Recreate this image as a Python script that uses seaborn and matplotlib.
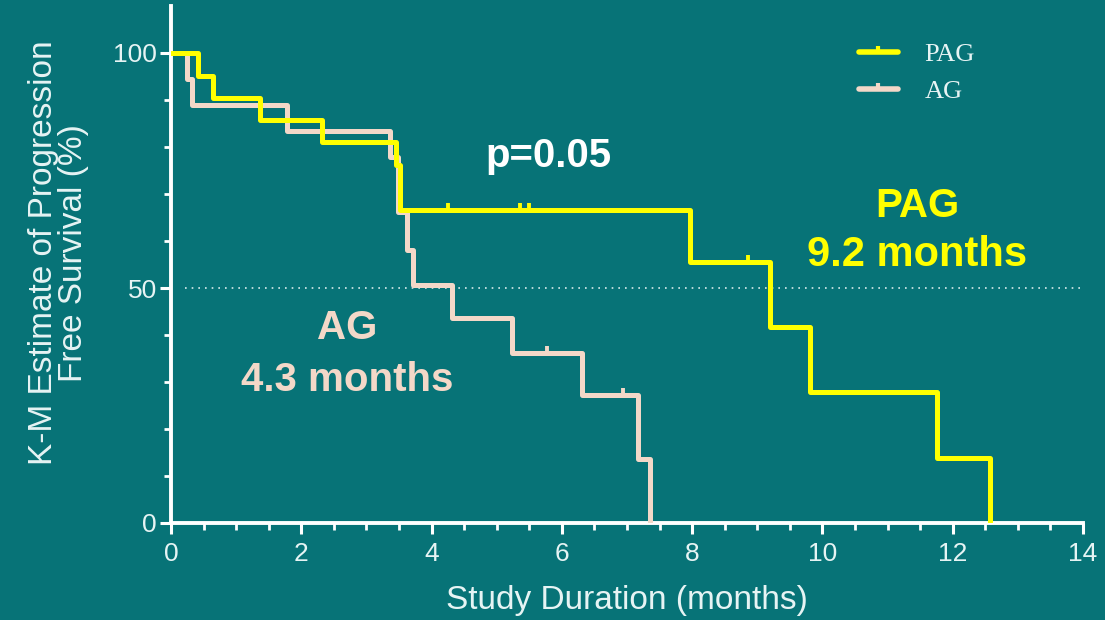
import numpy as np
import pandas as pd
import matplotlib
matplotlib.use("Agg")
import matplotlib.pyplot as plt
import seaborn as sns
from matplotlib.lines import Line2D

# ---- data (step points: time in months, survival %) ----
pag_time = [0.0, 0.41, 0.65, 1.37, 2.32, 3.45, 3.52, 7.97, 9.20, 9.81, 11.76, 12.57]
pag_surv = [100.0, 95.2, 90.5, 85.7, 81.0, 76.2, 66.7, 55.6, 41.7, 27.8, 13.9, 0.0]
pag_cens_time = [4.25, 5.36, 5.50, 8.85]
pag_cens_surv = [66.7, 66.7, 66.7, 55.6]

ag_time = [0.0, 0.25, 0.33, 1.78, 3.36, 3.48, 3.62, 3.72, 4.31, 5.23, 6.31, 7.17, 7.35]
ag_surv = [100.0, 94.4, 88.9, 83.3, 77.8, 66.1, 58.1, 50.6, 43.6, 36.2, 27.2, 13.6, 0.0]
ag_cens_time = [5.77, 6.94]
ag_cens_surv = [36.2, 27.2]

x_ticks = [0, 2, 4, 6, 8, 10, 12, 14]
y_ticks = [0, 50, 100]

BG = "#077377"
YEL = "#FFFF00"
BEI = "#F3D8C8"
TXT = "#E6F4F4"

sns.set_theme(style="ticks")
plt.rcParams["font.family"] = ["Liberation Sans", "DejaVu Sans"]

fig = plt.figure(figsize=(11.05, 6.2), dpi=100, facecolor=BG)
ax = fig.add_axes([171 / 1105, 1 - 523 / 620, (1083 - 171) / 1105, 517 / 620])
ax.set_facecolor(BG)

df = pd.concat([
    pd.DataFrame({"t": pag_time, "s": pag_surv, "g": "PAG"}),
    pd.DataFrame({"t": ag_time, "s": ag_surv, "g": "AG"}),
])
sns.lineplot(data=df[df.g == "PAG"], x="t", y="s", ax=ax, color=YEL, lw=3.6,
             drawstyle="steps-post", estimator=None, sort=False, zorder=4)
sns.lineplot(data=df[df.g == "AG"], x="t", y="s", ax=ax, color=BEI, lw=3.6,
             drawstyle="steps-post", estimator=None, sort=False, zorder=3)

up_tick = [(0, 0), (0, 1)]  # censor mark pointing upward from the line
sns.scatterplot(x=pag_cens_time, y=pag_cens_surv, ax=ax, marker=up_tick,
                color=YEL, edgecolor=YEL, s=110, linewidth=2.8, zorder=5)
sns.scatterplot(x=ag_cens_time, y=ag_cens_surv, ax=ax, marker=up_tick,
                color=BEI, edgecolor=BEI, s=110, linewidth=2.8, zorder=5)

# median reference line
ax.axhline(50, xmin=0.015, xmax=1, color="#D8ECEC", lw=1.2, ls=(0, (1, 3)), zorder=2)

ax.set_xlim(0, 14)
ax.set_ylim(0, 110)
ax.set_xticks(x_ticks)
ax.set_xticks(np.arange(0, 14.01, 0.5), minor=True)
ax.set_yticks(y_ticks)
ax.set_yticks(np.arange(0, 101, 10), minor=True)
ax.set_xticklabels([str(v) for v in x_ticks])
ax.set_yticklabels([str(v) for v in y_ticks])

for side in ["top", "right"]:
    ax.spines[side].set_visible(False)
for side in ["left", "bottom"]:
    ax.spines[side].set_color("white")
    ax.spines[side].set_linewidth(2.8)

ax.tick_params(axis="both", which="major", direction="out", length=8, width=2.2,
               color="white", labelcolor=TXT, labelsize=19, pad=2)
ax.tick_params(axis="both", which="minor", direction="out", length=5, width=2,
               color="white")
ax.tick_params(axis="x", which="major", pad=6)

ax.set_xlabel("Study Duration (months)", color=TXT, fontsize=24, labelpad=13)
ax.set_ylabel("K-M Estimate of Progression\nFree Survival (%)", color=TXT,
              fontsize=24, linespacing=0.95)
ax.yaxis.set_label_coords(-0.090, 0.523)

# annotations
ax.text(5.80, 78.0, "p=0.05", color="white", fontsize=29, fontweight="bold",
        ha="center", va="center")
ax.text(11.46, 67.5, "PAG", color=YEL, fontsize=29, fontweight="bold",
        ha="center", va="center")
ax.text(11.46, 57.0, "9.2 months", color=YEL, fontsize=30, fontweight="bold",
        ha="center", va="center")
ax.text(2.70, 41.5, "AG", color=BEI, fontsize=29, fontweight="bold",
        ha="center", va="center")
ax.text(2.70, 30.5, "4.3 months", color=BEI, fontsize=29, fontweight="bold",
        ha="center", va="center")

# legend (serif labels, line with upward censor tick)
handles = []
for c in (YEL, BEI):
    h = Line2D([0, 0.5, 1], [0, 0, 0], color=c, lw=4, marker=up_tick, markersize=9,
               markeredgewidth=3, markevery=[1], markeredgecolor=c)
    handles.append(h)
leg = ax.legend(handles, ["PAG", "AG"], loc="upper left", bbox_to_anchor=(0.728, 0.975),
                frameon=False, handlelength=1.5, handletextpad=1.0, labelspacing=0.52,
                prop={"family": "Liberation Serif", "size": 19})
for t in leg.get_texts():
    t.set_color(TXT)

fig.savefig("out.png", dpi=100, facecolor=BG)
